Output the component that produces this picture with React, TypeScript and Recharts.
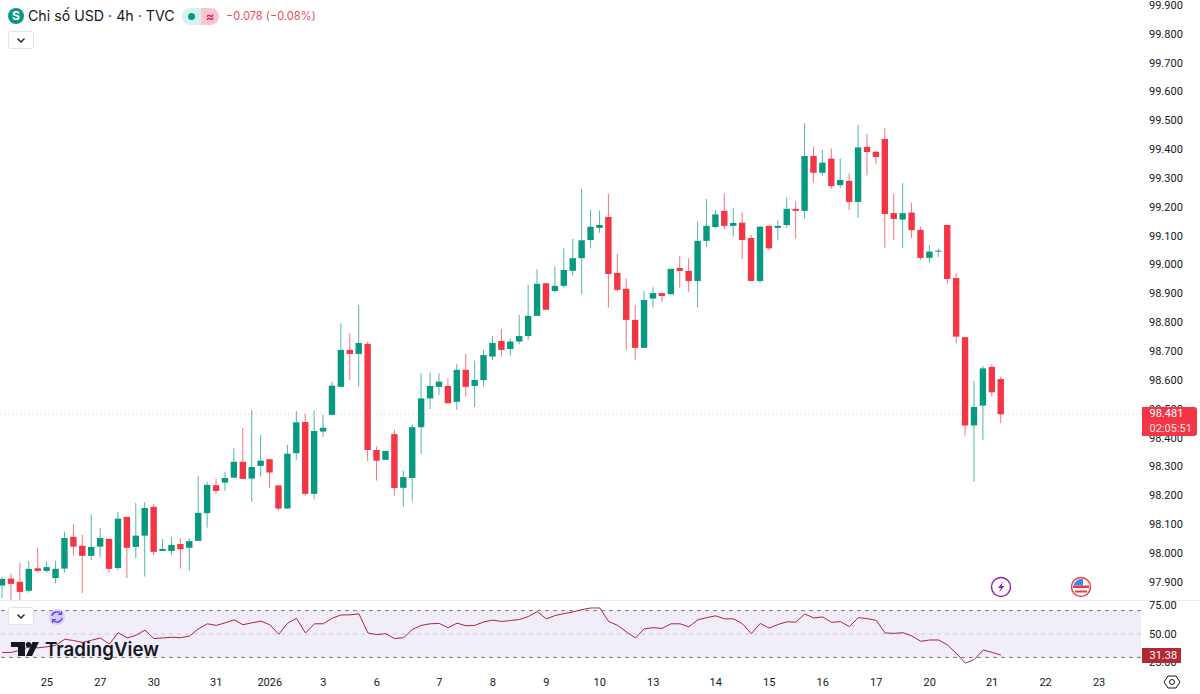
import { ComposedChart, Bar, Line, XAxis, YAxis, ReferenceLine, ReferenceArea } from "recharts";

const opens = [
  97.887, 97.911, 97.9, 97.869, 97.947, 97.938, 97.913, 97.946, 98.056, 98.025, 97.99, 98.022, 98.049, 97.948, 98.125, 98.021, 98.06, 98.16, 98.007, 98.007,
  98.031, 98.018, 98.042, 98.138, 98.235, 98.244, 98.261, 98.316, 98.258, 98.302, 98.325, 98.234, 98.154, 98.346, 98.454, 98.205, 98.421, 98.479, 98.576, 98.704,
  98.69, 98.725, 98.357, 98.323, 98.412, 98.226, 98.26, 98.436, 98.536, 98.576, 98.579, 98.524, 98.635, 98.579, 98.599, 98.681, 98.735, 98.707, 98.733, 98.752,
  98.822, 98.935, 98.908, 98.926, 98.978, 99.022, 99.085, 99.127, 99.165, 98.971, 98.916, 98.808, 98.711, 98.882, 98.901, 98.897, 98.988, 98.978, 98.943, 99.082,
  99.13, 99.186, 99.134, 99.145, 99.092, 98.943, 99.134, 99.127, 99.137, 99.193, 99.186, 99.376, 99.318, 99.367, 99.275, 99.29, 99.217, 99.408, 99.391, 99.435,
  99.178, 99.156, 99.18, 99.12, 99.023, 99.045, 99.137, 98.953, 98.748, 98.442, 98.511, 98.645, 98.603,
];
const highs = [
  97.917, 97.928, 97.966, 97.973, 98.018, 97.97, 97.973, 98.074, 98.101, 98.063, 98.134, 98.086, 98.049, 98.143, 98.125, 98.173, 98.176, 98.169, 98.048, 98.055,
  98.051, 98.051, 98.267, 98.247, 98.258, 98.282, 98.363, 98.433, 98.496, 98.409, 98.325, 98.236, 98.375, 98.492, 98.482, 98.494, 98.479, 98.594, 98.796, 98.762,
  98.86, 98.733, 98.369, 98.354, 98.427, 98.285, 98.446, 98.623, 98.625, 98.623, 98.606, 98.655, 98.69, 98.667, 98.704, 98.752, 98.777, 98.744, 98.825, 98.929,
  98.984, 98.936, 98.993, 99.056, 99.089, 99.262, 99.189, 99.186, 99.245, 99.037, 98.952, 98.86, 98.909, 98.921, 98.901, 98.985, 99.03, 99.022, 99.149, 99.227,
  99.189, 99.247, 99.195, 99.18, 99.102, 99.134, 99.134, 99.154, 99.232, 99.22, 99.49, 99.409, 99.397, 99.402, 99.367, 99.316, 99.484, 99.453, 99.393, 99.472,
  99.245, 99.282, 99.214, 99.131, 99.068, 99.056, 99.137, 98.97, 98.748, 98.597, 98.648, 98.654, 98.611,
];
const lows = [
  97.844, 97.837, 97.837, 97.863, 97.932, 97.931, 97.895, 97.932, 97.991, 97.861, 97.976, 97.985, 97.932, 97.941, 97.913, 97.982, 97.918, 97.993, 98.007, 97.993,
  97.946, 97.939, 98.042, 98.088, 98.205, 98.215, 98.26, 98.257, 98.178, 98.265, 98.225, 98.147, 98.153, 98.323, 98.198, 98.186, 98.403, 98.479, 98.576, 98.6,
  98.577, 98.319, 98.251, 98.323, 98.199, 98.161, 98.179, 98.343, 98.499, 98.548, 98.519, 98.496, 98.542, 98.506, 98.577, 98.669, 98.681, 98.684, 98.724, 98.739,
  98.822, 98.843, 98.903, 98.92, 98.96, 98.897, 99.056, 99.11, 98.851, 98.906, 98.704, 98.669, 98.711, 98.851, 98.871, 98.897, 98.92, 98.906, 98.852, 99.06,
  99.126, 99.123, 99.097, 99.019, 98.943, 98.936, 99.05, 99.085, 99.127, 99.091, 99.16, 99.284, 99.308, 99.263, 99.266, 99.189, 99.162, 99.309, 99.348, 99.058,
  99.085, 99.058, 99.092, 99.016, 99.006, 99.026, 98.933, 98.727, 98.407, 98.247, 98.392, 98.542, 98.45,
];
const closes = [
  97.91, 97.893, 97.865, 97.945, 97.938, 97.951, 97.945, 98.052, 98.022, 97.99, 98.021, 98.052, 97.945, 98.119, 98.018, 98.06, 98.156, 98.004, 98.014, 98.028,
  98.013, 98.041, 98.139, 98.236, 98.215, 98.26, 98.316, 98.257, 98.298, 98.32, 98.279, 98.154, 98.344, 98.453, 98.205, 98.423, 98.434, 98.58, 98.704, 98.69,
  98.728, 98.357, 98.32, 98.354, 98.225, 98.263, 98.436, 98.536, 98.579, 98.594, 98.519, 98.635, 98.576, 98.6, 98.686, 98.728, 98.704, 98.733, 98.752, 98.822,
  98.933, 98.843, 98.926, 98.981, 99.022, 99.084, 99.131, 99.137, 98.967, 98.912, 98.808, 98.711, 98.877, 98.901, 98.891, 98.985, 98.978, 98.943, 99.082, 99.134,
  99.174, 99.134, 99.144, 99.085, 98.943, 99.131, 99.056, 99.134, 99.193, 99.186, 99.376, 99.318, 99.353, 99.272, 99.293, 99.217, 99.406, 99.39, 99.373, 99.175,
  99.158, 99.178, 99.119, 99.023, 99.045, 99.048, 98.95, 98.75, 98.442, 98.506, 98.64, 98.557, 98.481,
];
const rsiValues = [
  30.3, 30.3, 32.8, 36.3, 35.2, 36.3, 38.0, 44.4, 43.0, 40.9, 43.3, 45.8, 39.1, 51.4, 45.8, 48.6, 54.2, 45.1, 45.8, 46.5,
  46.1, 47.9, 55.6, 60.9, 59.2, 62.0, 65.1, 59.9, 62.0, 63.7, 59.9, 49.7, 61.6, 66.6, 51.1, 60.9, 60.9, 66.9, 70.4, 70.4,
  71.5, 51.1, 49.3, 50.4, 45.1, 46.1, 54.9, 59.2, 60.9, 61.3, 56.7, 61.6, 58.8, 59.2, 63.0, 64.8, 63.4, 64.4, 65.5, 68.7,
  73.9, 66.2, 69.7, 71.8, 73.6, 76.1, 77.8, 77.8, 63.4, 59.2, 52.1, 45.8, 55.6, 56.7, 56.0, 60.9, 60.9, 57.8, 65.1, 67.5,
  69.4, 66.2, 66.2, 60.9, 50.4, 61.3, 56.3, 60.2, 63.0, 62.7, 71.4, 67.1, 68.2, 62.5, 63.2, 57.9, 67.5, 66.4, 64.6, 51.1,
  50.7, 51.4, 47.9, 42.2, 43.6, 43.6, 38.2, 29.3, 18.9, 22.8, 32.9, 30.4, 27.5,
];

const priceTicks = [97.9, 98, 98.1, 98.2, 98.3, 98.4, 98.5, 98.6, 98.7, 98.8, 98.9, 99, 99.1, 99.2, 99.3, 99.4, 99.5, 99.6, 99.7, 99.8, 99.9];
const rsiTicks = [25, 50, 75];
const dateTicks = [5, 11, 17, 24, 30, 36, 42, 49, 55, 61, 67, 73, 80, 86, 92, 98, 104, 111, 117, 123];
const dateLabels = ["25", "27", "30", "31", "2026", "3", "6", "7", "8", "9", "10", "13", "14", "15", "16", "17", "20", "21", "22", "23"];

const lastPrice = 98.481;
const green = "#089981";
const red = "#f23645";
const textColor = "#131722";
const uiFont = "Inter, 'Noto Sans', sans-serif";
const axisFont = "Roboto, sans-serif";
const xDomain: [number, number] = [-0.258, 127.7];

const candles = opens.map((open, i) => ({
  i,
  open,
  close: closes[i],
  high: highs[i],
  low: lows[i],
  range: [lows[i], highs[i]],
}));
const rsiData = rsiValues.map((rsi, i) => ({ i, rsi }));

function Candle({ x, y, width, height, payload }: any) {
  const { open, close, high, low } = payload;
  const perUnit = height / (high - low);
  const top = y + (high - Math.max(open, close)) * perUnit;
  const bottom = y + (high - Math.min(open, close)) * perUnit;
  const color = close >= open ? green : red;
  const mid = x + width / 2;
  return (
    <g>
      <line x1={mid} x2={mid} y1={y} y2={y + height} stroke={color} strokeWidth={1} strokeOpacity={0.7} />
      <rect x={x} y={top} width={width} height={Math.max(bottom - top, 1)} fill={color} />
    </g>
  );
}

function RsiTick({ x, y, payload }: any) {
  const shift = payload.value === 75 ? -5 : payload.value === 25 ? 5 : 0;
  return (
    <text x={x} y={y + shift} dy="0.35em" fontSize={11} fill={textColor} fontFamily={axisFont} textAnchor="start">
      {payload.value.toFixed(2)}
    </text>
  );
}

function Chevron({ left, top }: { left: number; top: number }) {
  return (
    <div style={{ position: "absolute", left, top, width: 26, height: 18, background: "#fff", border: "1px solid #e0e3eb", borderRadius: 3, boxSizing: "border-box" }}>
      <svg width={24} height={16} style={{ display: "block" }}>
        <path d="M8.500 6.500l3.500 3.500 3.500-3.500" fill="none" stroke={textColor} strokeWidth={1.3} />
      </svg>
    </div>
  );
}

function Overlays() {
  return (
    <>
      <div style={{ position: "absolute", left: 8, top: 8, width: 16, height: 16, borderRadius: 8, background: green, color: "#fff", fontSize: 12, fontWeight: 700, lineHeight: "16px", textAlign: "center" }}>
        S
      </div>
      <div style={{ position: "absolute", left: 28, top: 7, fontSize: 14.2, lineHeight: "18px", color: textColor, whiteSpace: "nowrap" }}>
        Chỉ số USD · 4h · TVC
      </div>
      <div style={{ position: "absolute", left: 182, top: 8, width: 19, height: 17, background: "#d5f3ee", borderRadius: "9px 0 0 9px" }}>
        <div style={{ position: "absolute", left: 6, top: 5, width: 7, height: 7, borderRadius: 4, background: green }} />
      </div>
      <div style={{ position: "absolute", left: 201, top: 8, width: 18, height: 17, background: "#f9c6d0", borderRadius: "0 9px 9px 0", color: "#d81b60", fontSize: 13, fontWeight: 600, lineHeight: "16px", textAlign: "center" }}>
        ≈
      </div>
      <div style={{ position: "absolute", left: 226, top: 8, fontSize: 11.1, lineHeight: "16px", color: "#ea4a5e", whiteSpace: "nowrap" }}>
        −0.078 (−0.08%)
      </div>
      <Chevron left={8} top={31} />
      <Chevron left={8} top={607} />

      <svg width={20} height={20} style={{ position: "absolute", left: 47, top: 607 }}>
        <circle cx={10} cy={10} r={8} fill="#d9cdfb" />
        <path d="M5 9a5 5 0 0 1 9-2M15 11a5 5 0 0 1-9 2" fill="none" stroke="#6a3df0" strokeWidth={1.4} />
        <path d="M14.500 4v3.500H11M5.500 16v-3.500H9" fill="none" stroke="#6a3df0" strokeWidth={1.2} />
      </svg>

      <svg width={22} height={22} style={{ position: "absolute", left: 990, top: 576 }}>
        <circle cx={11} cy={11} r={9.500} fill="#fff" stroke="#8e24aa" strokeWidth={1.4} />
        <path d="M13 5.500L8 12h3l-2 4.500L14.500 10h-3z" fill="#8e24aa" />
      </svg>
      <svg width={22} height={22} style={{ position: "absolute", left: 1070, top: 576 }}>
        <circle cx={11} cy={11} r={9.500} fill="#fff" stroke={red} strokeWidth={1.4} />
        <path d="M3 9.500h16v2.500H3zM5 14.500h12v2H5z" fill={red} />
        <path d="M3.500 9.500a8.500 8.500 0 0 1 9.500-6.500v6.500z" fill="#3d8be8" />
      </svg>
      <svg width={20} height={20} style={{ position: "absolute", left: 1162, top: 672 }}>
        <path d="M6 4h8l4 6-4 6H6l-4-6z" fill="none" stroke={textColor} strokeWidth={1} />
        <circle cx={10} cy={10} r={2.500} fill="none" stroke={textColor} strokeWidth={1} />
      </svg>

      <svg width={30} height={16} style={{ position: "absolute", left: 11, top: 642 }}>
        <path d="M0 0H14V14H7V5H0z" fill={textColor} />
        <circle cx={17.500} cy={2.700} r={2.700} fill={textColor} />
        <path d="M21.500 0H28L21 14H15z" fill={textColor} />
      </svg>
      <div style={{ position: "absolute", left: 45, top: 638, fontSize: 18.7, fontWeight: 600, lineHeight: "24px", color: textColor, whiteSpace: "nowrap" }}>
        TradingView
      </div>

      <div style={{ position: "absolute", left: 1142, top: 407, width: 55, height: 29, background: red, color: "#fff", borderRadius: "0 3px 3px 0", fontFamily: axisFont, fontSize: 11, lineHeight: "14.500px", paddingLeft: 7.500, boxSizing: "border-box" }}>
        <div>98.481</div>
        <div style={{ opacity: 0.85 }}>02:05:51</div>
      </div>
      <div style={{ position: "absolute", left: 1142, top: 648, width: 39, height: 15, background: "#b22833", color: "#fff", fontFamily: axisFont, fontSize: 11, lineHeight: "15px", paddingLeft: 7.500, boxSizing: "border-box" }}>
        31.38
      </div>
    </>
  );
}

export default function App() {
  return (
    <div style={{ position: "absolute", left: 0, top: 0, width: 1200, height: 694, background: "#fff", overflow: "hidden", fontFamily: uiFont }}>
      <ComposedChart width={1200} height={600} data={candles} margin={{ top: 0, right: 0, bottom: 0, left: 0 }}>
        <XAxis dataKey="i" type="number" domain={xDomain} allowDataOverflow hide />
        <YAxis
          orientation="right"
          width={59}
          domain={[97.837, 99.917]}
          allowDataOverflow
          ticks={priceTicks}
          interval={0}
          tickFormatter={(v: number) => v.toFixed(3)}
          tick={{ fontSize: 11, fill: textColor, fontFamily: axisFont }}
          tickSize={0}
          tickMargin={8}
          axisLine={false}
        />
        <ReferenceLine y={lastPrice} stroke={red} strokeOpacity={0.3} strokeDasharray="1 3" />
        <Bar dataKey="range" barSize={6.4} shape={<Candle />} isAnimationActive={false} />
      </ComposedChart>

      <div style={{ position: "absolute", left: 0, top: 600, width: 1200, height: 1, background: "#e8eaf0" }} />

      <div style={{ position: "absolute", left: 0, top: 600 }}>
        <ComposedChart width={1200} height={94} data={rsiData} margin={{ top: 0, right: 0, bottom: 0, left: 0 }}>
          <XAxis
            dataKey="i"
            type="number"
            domain={xDomain}
            allowDataOverflow
            ticks={dateTicks}
            interval={0}
            height={26}
            tickFormatter={(v: number) => dateLabels[dateTicks.indexOf(v)]}
            tick={{ fontSize: 11, fill: textColor, fontFamily: axisFont }}
            tickSize={0}
            tickMargin={10}
            axisLine={false}
          />
          <YAxis
            orientation="right"
            width={59}
            domain={[13.68, 86.32]}
            allowDataOverflow
            ticks={rsiTicks}
            interval={0}
            tick={<RsiTick />}
            tickSize={0}
            tickMargin={8}
            axisLine={false}
          />
          <ReferenceArea y1={25} y2={75} fill="#7e57c2" fillOpacity={0.1} strokeOpacity={0} />
          <ReferenceLine y={75} stroke="#787b86" strokeDasharray="4 4" />
          <ReferenceLine y={50} stroke="#787b86" strokeOpacity={0.35} strokeDasharray="4 4" />
          <ReferenceLine y={25} stroke="#787b86" strokeDasharray="4 4" />
          <Line dataKey="rsi" type="linear" stroke="#a8283a" strokeWidth={1} dot={false} isAnimationActive={false} />
        </ComposedChart>
      </div>

      <Overlays />
    </div>
  );
}
